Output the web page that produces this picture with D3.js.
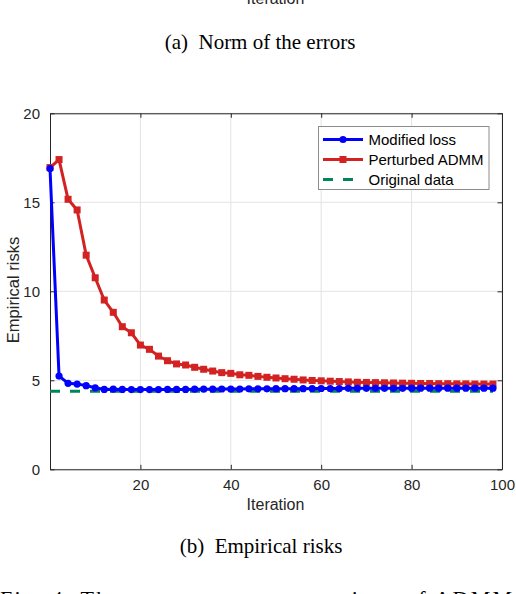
<!DOCTYPE html>
<html>
<head>
<meta charset="utf-8">
<script src="https://cdn.jsdelivr.net/npm/d3@7"></script>
<style>
  body { margin: 0; background: #fff; }
  svg { display: block; }
</style>
</head>
<body>
<div id="chart"></div>
<script>
let w = 516;
let h = 594;

// data
let iterations = [0, 2, 4, 6, 8, 10, 12, 14, 16, 18, 20, 22, 24, 26, 28, 30, 32, 34, 36, 38,
  40, 42, 44, 46, 48, 50, 52, 54, 56, 58, 60, 62, 64, 66, 68, 70, 72, 74, 76, 78,
  80, 82, 84, 86, 88, 90, 92, 94, 96, 98];
let modifiedLoss = [16.9, 5.24, 4.83, 4.79, 4.70, 4.58, 4.49, 4.50, 4.49, 4.48,
  4.48, 4.48, 4.48, 4.49, 4.49, 4.49, 4.50, 4.50, 4.50, 4.51,
  4.51, 4.51, 4.52, 4.52, 4.52, 4.53, 4.53, 4.53, 4.53, 4.54,
  4.54, 4.54, 4.54, 4.55, 4.55, 4.55, 4.55, 4.55, 4.55, 4.55,
  4.56, 4.56, 4.56, 4.56, 4.56, 4.56, 4.56, 4.56, 4.56, 4.56];
let perturbedADMM = [16.95, 17.4, 15.17, 14.57, 12.03, 10.76, 9.51, 8.82, 8.01, 7.67,
  6.98, 6.74, 6.36, 6.10, 5.92, 5.86, 5.73, 5.62, 5.52, 5.43,
  5.39, 5.31, 5.28, 5.22, 5.17, 5.13, 5.09, 5.06, 5.02, 4.99,
  4.97, 4.95, 4.93, 4.91, 4.89, 4.88, 4.87, 4.86, 4.85, 4.84,
  4.83, 4.82, 4.82, 4.81, 4.81, 4.80, 4.80, 4.79, 4.79, 4.79];
let originalRisk = 4.38;
let xTicks = [20, 40, 60, 80, 100];
let yTicks = [0, 5, 10, 15, 20];
let seriesNames = ["Modified loss", "Perturbed ADMM", "Original data"];

let plotLeft = 50, plotRight = 502, plotTop = 113.3, plotBottom = 469.3;
let axisColor = "#262626";
let gridColor = "#e3e3e3";
let blue = "#0000ff";
let red = "#d22222";
let green = "#00845a";

let svg = d3.select("#chart")
  .append("svg")
  .attr("width", w)
  .attr("height", h)
  .style("font-family", "'Liberation Sans', Arial, sans-serif");

let xScale = d3.scaleLinear().domain([0, 100]).range([plotLeft, plotRight]);
let yScale = d3.scaleLinear().domain([0, 20]).range([plotBottom, plotTop]);

// leftover of the upper subfigure
svg.append("text")
  .attr("x", 275.5).attr("y", 4)
  .attr("text-anchor", "middle")
  .style("font-size", "16px").style("fill", axisColor)
  .text("Iteration");

svg.append("text")
  .attr("x", 260).attr("y", 49)
  .attr("text-anchor", "middle")
  .style("font-family", "'Liberation Serif', 'Times New Roman', serif")
  .style("font-size", "21px")
  .text("(a)\u2002Norm of the errors");

// grid
let grid = svg.append("g");
grid.selectAll(".vgrid").data(xTicks).enter()
  .append("line")
  .attr("x1", d => xScale(d)).attr("x2", d => xScale(d))
  .attr("y1", plotTop).attr("y2", plotBottom)
  .attr("stroke", gridColor).attr("stroke-width", 1);
grid.selectAll(".hgrid").data(yTicks).enter()
  .append("line")
  .attr("x1", plotLeft).attr("x2", plotRight)
  .attr("y1", d => yScale(d)).attr("y2", d => yScale(d))
  .attr("stroke", gridColor).attr("stroke-width", 1);

// axes (box with ticks on every side)
function styleAxis(g) {
  g.select(".domain").attr("stroke", axisColor);
  g.selectAll(".tick line").attr("stroke", axisColor);
  g.selectAll(".tick text").style("fill", axisColor).style("font-size", "15px")
    .style("font-family", "'Liberation Sans', Arial, sans-serif");
}
let xAxis = d3.axisBottom(xScale).tickValues(xTicks).tickSizeInner(-4.5).tickSizeOuter(0).tickPadding(10);
svg.append("g").attr("transform", `translate(0,${plotBottom})`).call(xAxis).call(styleAxis);
let xAxisTop = d3.axisTop(xScale).tickValues(xTicks).tickSizeInner(-4.5).tickSizeOuter(0).tickFormat("");
svg.append("g").attr("transform", `translate(0,${plotTop})`).call(xAxisTop).call(styleAxis);
let yAxis = d3.axisLeft(yScale).tickValues(yTicks).tickSizeInner(-4.5).tickSizeOuter(0).tickPadding(10);
svg.append("g").attr("transform", `translate(${plotLeft},0)`).call(yAxis).call(styleAxis);
let yAxisRight = d3.axisRight(yScale).tickValues(yTicks).tickSizeInner(-4.5).tickSizeOuter(0).tickFormat("");
svg.append("g").attr("transform", `translate(${plotRight},0)`).call(yAxisRight).call(styleAxis);

// axis labels
svg.append("text")
  .attr("x", 275.5).attr("y", 510)
  .attr("text-anchor", "middle")
  .style("font-size", "16px").style("fill", axisColor)
  .text("Iteration");
svg.append("text")
  .attr("transform", "translate(19,290) rotate(-90)")
  .attr("text-anchor", "middle")
  .style("font-size", "16.5px").style("fill", axisColor)
  .text("Empirical risks");

// series
let plot = svg.append("g");
let line = d3.line()
  .x(d => xScale(d[0]))
  .y(d => yScale(d[1]));

let greenData = [[iterations[0], originalRisk], [iterations[iterations.length - 1], originalRisk]];
plot.append("path")
  .datum(greenData)
  .attr("d", line)
  .attr("fill", "none").attr("stroke", green)
  .attr("stroke-width", 3).attr("stroke-dasharray", "10,10");

let redData = iterations.map((d, i) => [d, perturbedADMM[i]]);
plot.append("path")
  .datum(redData)
  .attr("d", line)
  .attr("fill", "none").attr("stroke", red).attr("stroke-width", 3);
plot.selectAll(".redpoint").data(redData).enter()
  .append("rect")
  .attr("class", "redpoint")
  .attr("x", d => xScale(d[0]) - 3.5)
  .attr("y", d => yScale(d[1]) - 3.5)
  .attr("width", 7).attr("height", 7)
  .attr("fill", red);

let blueData = iterations.map((d, i) => [d, modifiedLoss[i]]);
plot.append("path")
  .datum(blueData)
  .attr("d", line)
  .attr("fill", "none").attr("stroke", blue).attr("stroke-width", 3);
plot.selectAll(".bluepoint").data(blueData).enter()
  .append("circle")
  .attr("class", "bluepoint")
  .attr("cx", d => xScale(d[0]))
  .attr("cy", d => yScale(d[1]))
  .attr("r", 3.6)
  .attr("fill", blue);

// legend
let legend = svg.append("g");
legend.append("rect")
  .attr("x", 318.5).attr("y", 126.5)
  .attr("width", 170.5).attr("height", 63)
  .attr("fill", "#fff").attr("stroke", "#8c8c8c").attr("stroke-width", 1);

let legendColors = [blue, red, green];
let rowY = [139.5, 159.5, 179.5];
seriesNames.forEach((name, i) => {
  let g = legend.append("g");
  g.append("line")
    .attr("x1", 323).attr("x2", 363)
    .attr("y1", rowY[i]).attr("y2", rowY[i])
    .attr("stroke", legendColors[i]).attr("stroke-width", 3)
    .attr("stroke-dasharray", i == 2 ? "10,10" : null);
  if (i == 0) {
    g.append("circle").attr("cx", 343).attr("cy", rowY[i]).attr("r", 3.6).attr("fill", blue);
  } else if (i == 1) {
    g.append("rect").attr("x", 339.5).attr("y", rowY[i] - 3.5).attr("width", 7).attr("height", 7).attr("fill", red);
  }
  g.append("text")
    .attr("x", 368.5).attr("y", rowY[i] + 5.3)
    .style("font-size", "15px").style("fill", "#000")
    .text(name);
});

// captions
svg.append("text")
  .attr("x", 261).attr("y", 553)
  .attr("text-anchor", "middle")
  .style("font-family", "'Liberation Serif', 'Times New Roman', serif")
  .style("font-size", "21px")
  .text("(b)\u2002Empirical risks");

svg.append("text")
  .attr("x", 0).attr("y", 606)
  .attr("textLength", 512).attr("lengthAdjust", "spacing")
  .style("font-family", "'Liberation Serif', 'Times New Roman', serif")
  .style("font-size", "22px")
  .text("Fig. 4: The convergence comparison of ADMM");
</script>
</body>
</html>
